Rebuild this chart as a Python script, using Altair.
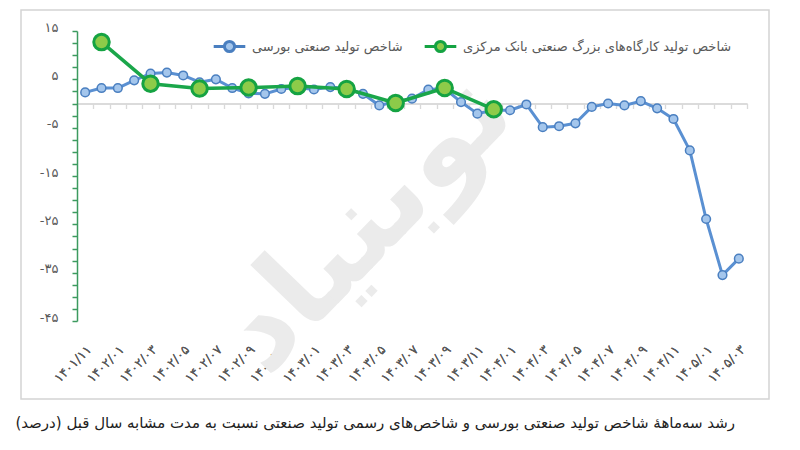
import altair as alt
import pandas as pd

# ---------------- data ----------------
MONTHS = [
    "۱۴۰۱/۱۱", "۱۴۰۱/۱۲",
    "۱۴۰۲/۰۱", "۱۴۰۲/۰۲", "۱۴۰۲/۰۳", "۱۴۰۲/۰۴", "۱۴۰۲/۰۵", "۱۴۰۲/۰۶",
    "۱۴۰۲/۰۷", "۱۴۰۲/۰۸", "۱۴۰۲/۰۹", "۱۴۰۲/۱۰", "۱۴۰۲/۱۱", "۱۴۰۲/۱۲",
    "۱۴۰۳/۰۱", "۱۴۰۳/۰۲", "۱۴۰۳/۰۳", "۱۴۰۳/۰۴", "۱۴۰۳/۰۵", "۱۴۰۳/۰۶",
    "۱۴۰۳/۰۷", "۱۴۰۳/۰۸", "۱۴۰۳/۰۹", "۱۴۰۳/۱۰", "۱۴۰۳/۱۱", "۱۴۰۳/۱۲",
    "۱۴۰۴/۰۱", "۱۴۰۴/۰۲", "۱۴۰۴/۰۳", "۱۴۰۴/۰۴", "۱۴۰۴/۰۵", "۱۴۰۴/۰۶",
    "۱۴۰۴/۰۷", "۱۴۰۴/۰۸", "۱۴۰۴/۰۹", "۱۴۰۴/۱۰", "۱۴۰۴/۱۱", "۱۴۰۴/۱۲",
    "۱۴۰۵/۰۱", "۱۴۰۵/۰۲", "۱۴۰۵/۰۳",
]
LABEL_MONTHS = MONTHS[::2]

BOURSE = [2.3, 3.2, 3.2, 4.8, 6.2, 6.4, 5.8, 4.4, 5.0, 3.2, 2.1,
          2.0, 3.0, 3.3, 2.9, 3.4, 3.1, 2.0, -0.4, 0.4, 1.0,
          2.9, 3.1, 0.3, -2.1, -1.4, -1.4, -0.2, -4.9, -4.7, -4.1,
          -0.7, 0.0, -0.4, 0.5, -1.0, -3.2, -9.7, -23.9, -35.5, -32.1]

CBI_MONTHS = ["۱۴۰۱/۱۲", "۱۴۰۲/۰۳", "۱۴۰۲/۰۶", "۱۴۰۲/۰۹", "۱۴۰۲/۱۲",
              "۱۴۰۳/۰۳", "۱۴۰۳/۰۶", "۱۴۰۳/۰۹", "۱۴۰۳/۱۲"]
CBI = [12.7, 4.1, 3.1, 3.3, 3.6, 3.0, 0.1, 3.2, -1.2]

SERIES = ["شاخص تولید صنعتی بورسی", "شاخص تولید کارگاه‌های بزرگ صنعتی بانک مرکزی"]

Y_TICK_VALUES = [15, 5, -5, -15, -25, -35, -45]
Y_TICK_LABELS = ["۱۵", "۵", "-۵", "-۱۵", "-۲۵", "-۳۵", "-۴۵"]

CAPTION = "رشد سه‌ماههٔ شاخص تولید صنعتی بورسی و شاخص‌های رسمی تولید صنعتی نسبت به مدت مشابه سال قبل (درصد)"
WATERMARK = "نوبنیاد"

# ---------------- styling ----------------
FONT = "DejaVu Sans"
W, H = 670, 290
Y_MIN, Y_MAX = -45, 15
LINE_COLORS = ["#5a90d2", "#1aa64a"]
MARK_STROKES = ["#4a7fc0", "#15a342"]
MARK_FILLS = ["#a4c6ec", "#8dcb49"]
LEGEND_X = [135, 346]

df = pd.concat([
    pd.DataFrame({"series": SERIES[0], "month": MONTHS, "value": BOURSE}),
    pd.DataFrame({"series": SERIES[1], "month": CBI_MONTHS, "value": CBI}),
], ignore_index=True)

zero_from_top = H * (Y_MAX - 0) / (Y_MAX - Y_MIN)
x_axis_offset = -(H - zero_from_top)

label_expr = " : ".join(
    f"datum.value == {v} ? '{l}'" for v, l in zip(Y_TICK_VALUES, Y_TICK_LABELS)
) + " : ''"
minor_ticks = [Y_MIN + 2.5 * k for k in range(int((Y_MAX - Y_MIN) / 2.5) + 1)]

y_enc = alt.Y(
    "value:Q",
    scale=alt.Scale(domain=[Y_MIN, Y_MAX], nice=False, zero=False),
    axis=alt.Axis(
        values=minor_ticks, labelExpr=label_expr, title=None, grid=False,
        domainColor="#3c9a5f", domainWidth=1.5, tickColor="#3c9a5f", tickWidth=1.5,
        tickSize=5, labelPadding=14, labelOffset=-4, labelFont=FONT,
        labelFontSize=13, labelColor="#595959",
    ),
)

x_scale = alt.Scale(type="band", domain=MONTHS, paddingInner=0, paddingOuter=0)
x_axis_line = alt.X(
    "month:N", scale=x_scale, bandPosition=0.5,
    axis=alt.Axis(
        orient="bottom", offset=x_axis_offset, labels=False, title=None, grid=False,
        domainColor="#d9d9d9", domainWidth=1.5, tickColor="#d9d9d9", tickWidth=1.2,
        tickSize=5, tickBand="extent",
    ),
)
x_axis_labels = alt.X(
    "month:N", scale=x_scale, bandPosition=0.5,
    axis=alt.Axis(
        orient="bottom", values=LABEL_MONTHS, labelAngle=-45, domain=False, ticks=False,
        title=None, grid=False, labelPadding=22, labelFont=FONT, labelFontSize=13,
        labelColor="#595959", labelOverlap=False,
    ),
)

LEGEND_PATH = ("M-1,0H-0.36M0.36,0H1"
               "M0.32,0A0.32,0.32,0,1,1,-0.32,0A0.32,0.32,0,1,1,0.32,0Z")


def make_legend(i):
    return alt.Legend(
        orient="none", legendX=LEGEND_X[i], legendY=-2, direction="horizontal", title=None,
        symbolType=LEGEND_PATH, symbolSize=1000, symbolStrokeWidth=3,
        symbolFillColor=MARK_FILLS[i], labelLimit=500,
        labelFont=FONT, labelFontSize=13, labelColor="#595959", labelOffset=5,
    )


base = alt.Chart(df)


def line_layer(i):
    return base.transform_filter(alt.datum.series == SERIES[i]).mark_line(
        strokeWidth=3 if i == 0 else 3.5, strokeJoin="round"
    ).encode(
        x=x_axis_line,
        y=y_enc,
        stroke=alt.Stroke("series:N", scale=alt.Scale(domain=[SERIES[i]], range=[LINE_COLORS[i]]),
                          legend=None),
    )


def point_layer(i):
    return base.transform_filter(alt.datum.series == SERIES[i]).mark_point(
        filled=True, shape="circle", fill=MARK_FILLS[i],
        size=75 if i == 0 else 240, strokeWidth=1.5 if i == 0 else 3, opacity=1,
    ).encode(
        x=x_axis_labels,
        y=y_enc,
        stroke=alt.Stroke("series:N", scale=alt.Scale(domain=[SERIES[i]], range=[MARK_STROKES[i]]),
                          legend=make_legend(i)),
    )


watermark = alt.Chart(pd.DataFrame({"t": [WATERMARK]})).mark_text(
    font=FONT, fontSize=118, fontWeight="bold", color="#ebebeb", angle=314,
    align="center", baseline="middle",
).encode(x=alt.value(290), y=alt.value(192), text="t:N")

frame = alt.Chart(pd.DataFrame({"t": [""]})).mark_rect(
    fill="transparent", stroke="#d4d4d4", strokeWidth=1.5
).encode(x=alt.value(-56), x2=alt.value(692), y=alt.value(-21), y2=alt.value(368))

caption = alt.Chart(pd.DataFrame({"t": [CAPTION]})).mark_text(
    font=FONT, fontSize=15, color="#222222", align="right", baseline="middle",
).encode(x=alt.value(658), y=alt.value(392), text="t:N")

chart = alt.layer(
    frame,
    watermark,
    line_layer(0),
    point_layer(0),
    line_layer(1),
    point_layer(1),
    caption,
).resolve_axis(x="independent").resolve_scale(stroke="independent").properties(
    width=W, height=H,
    autosize=alt.AutoSizeParams(type="none"),
    padding={"left": 69, "top": 23, "right": 40, "bottom": 120},
).configure_view(stroke=None)

chart.save("out.html", embed_options={"renderer": "svg", "actions": False})
